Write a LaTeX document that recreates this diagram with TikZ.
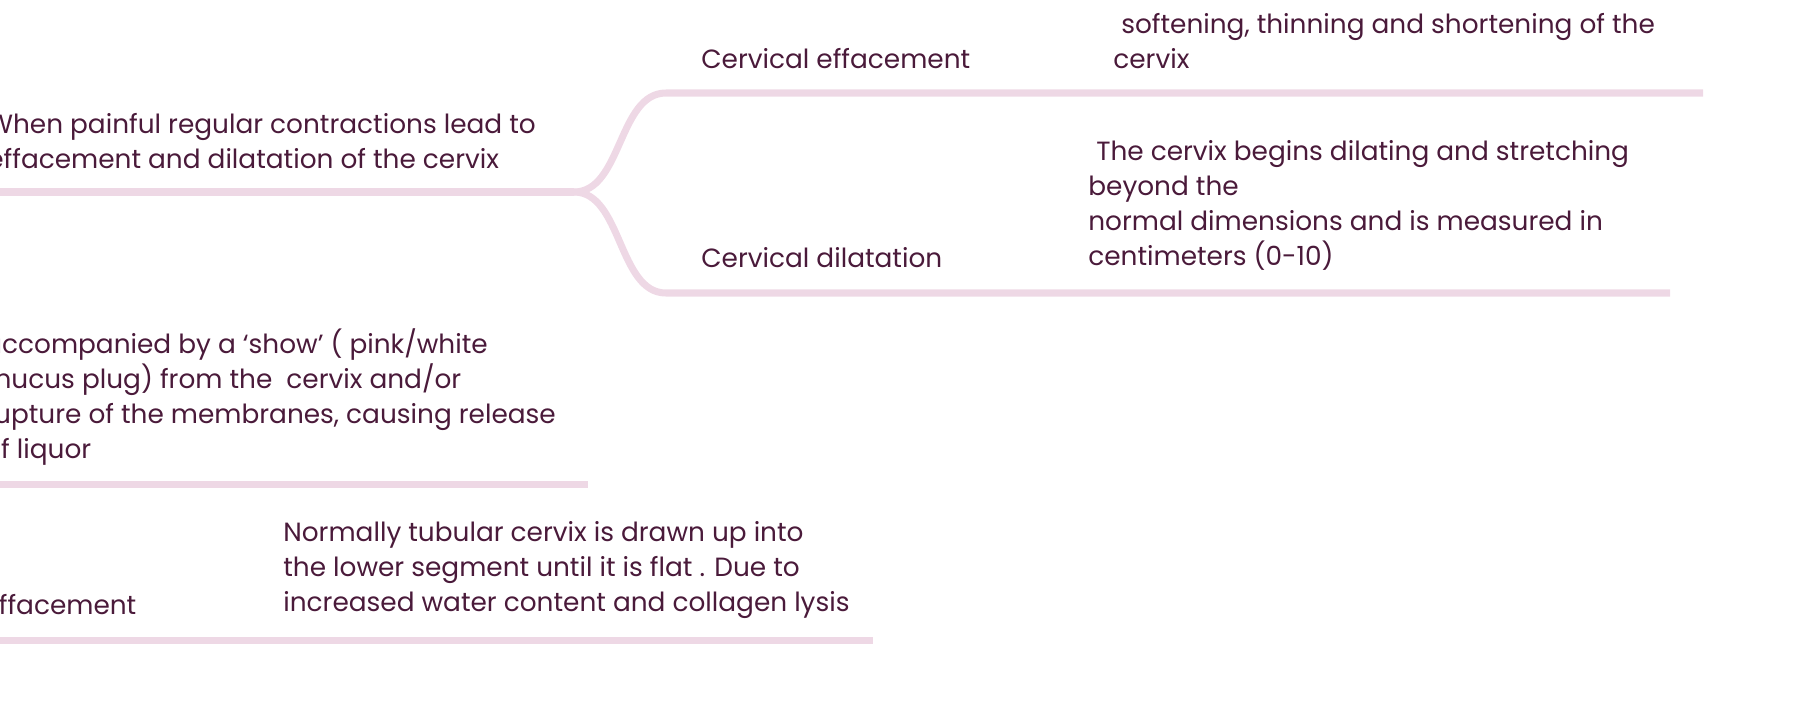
\documentclass[tikz,border=0pt]{standalone}
\usepackage{fontspec}
\setmainfont{Poppins}
\usetikzlibrary{positioning}
\definecolor{plum}{RGB}{74,26,58}
\definecolor{blush}{RGB}{238,216,229}
\tikzset{
  stem/.style={draw=blush,line width=4pt},
  note/.style={text=plum,font=\fontsize{15}{19.9}\selectfont,align=left,
    inner sep=0pt,anchor=west},
}

\begin{document}
\begin{tikzpicture}[x=0.02cm,y=-0.02cm]
  \useasboundingbox (0,0) rectangle (1801,708);
  \clip (0,0) rectangle (1801,708);
  % onset of labour and its two branches
  \node[note] (onset) at (-13,141) {When painful regular contractions lead to\\effacement and dilatation of the cervix};
  \coordinate (root) at (-10,192);
  \coordinate (fork) at (574,192);
  \coordinate (effL) at (666,93);
  \coordinate (effR) at (1703,93);
  \coordinate (dilL) at (666,293);
  \coordinate (dilR) at (1670,293);
  \draw[stem] (root) -- (fork);
  \draw[stem] (fork) .. controls (622,192) and (618,93) .. (effL) -- (effR);
  \draw[stem] (fork) .. controls (622,192) and (618,293) .. (dilL) -- (dilR);
  \node[note] (effT) at (701,59) {Cervical effacement};
  \node[note] (effD) at (1113,41) {\hspace*{0.3em}softening, thinning and shortening of the\\cervix};
  \node[note] (dilT) at (701,258) {Cervical dilatation};
  \node[note] (dilD) at (1088,205) {\hspace*{0.3em}The cervix begins dilating and stretching\\beyond the\\normal dimensions and is measured in\\centimeters (0-10)};
  % show
  \node[note] (show) at (-16,397) {accompanied by a ‘show’ ( pink/white\\mucus plug) from the\ \ cervix and/or\\rupture of the membranes, causing release\\of liquor};
  \coordinate (showL) at (-10,484);
  \coordinate (showR) at (588,484);
  \draw[stem] (showL) -- (showR);
  % effacement
  \node[note] (eff) at (-15,605) {Effacement};
  \node[note] (effN) at (283,570) {Normally tubular cervix is drawn up into\\the lower segment until it is flat . Due to\\increased water content and collagen lysis};
  \coordinate (effBL) at (-10,640);
  \coordinate (effBR) at (873,640);
  \draw[stem] (effBL) -- (effBR);
\end{tikzpicture}
\end{document}
